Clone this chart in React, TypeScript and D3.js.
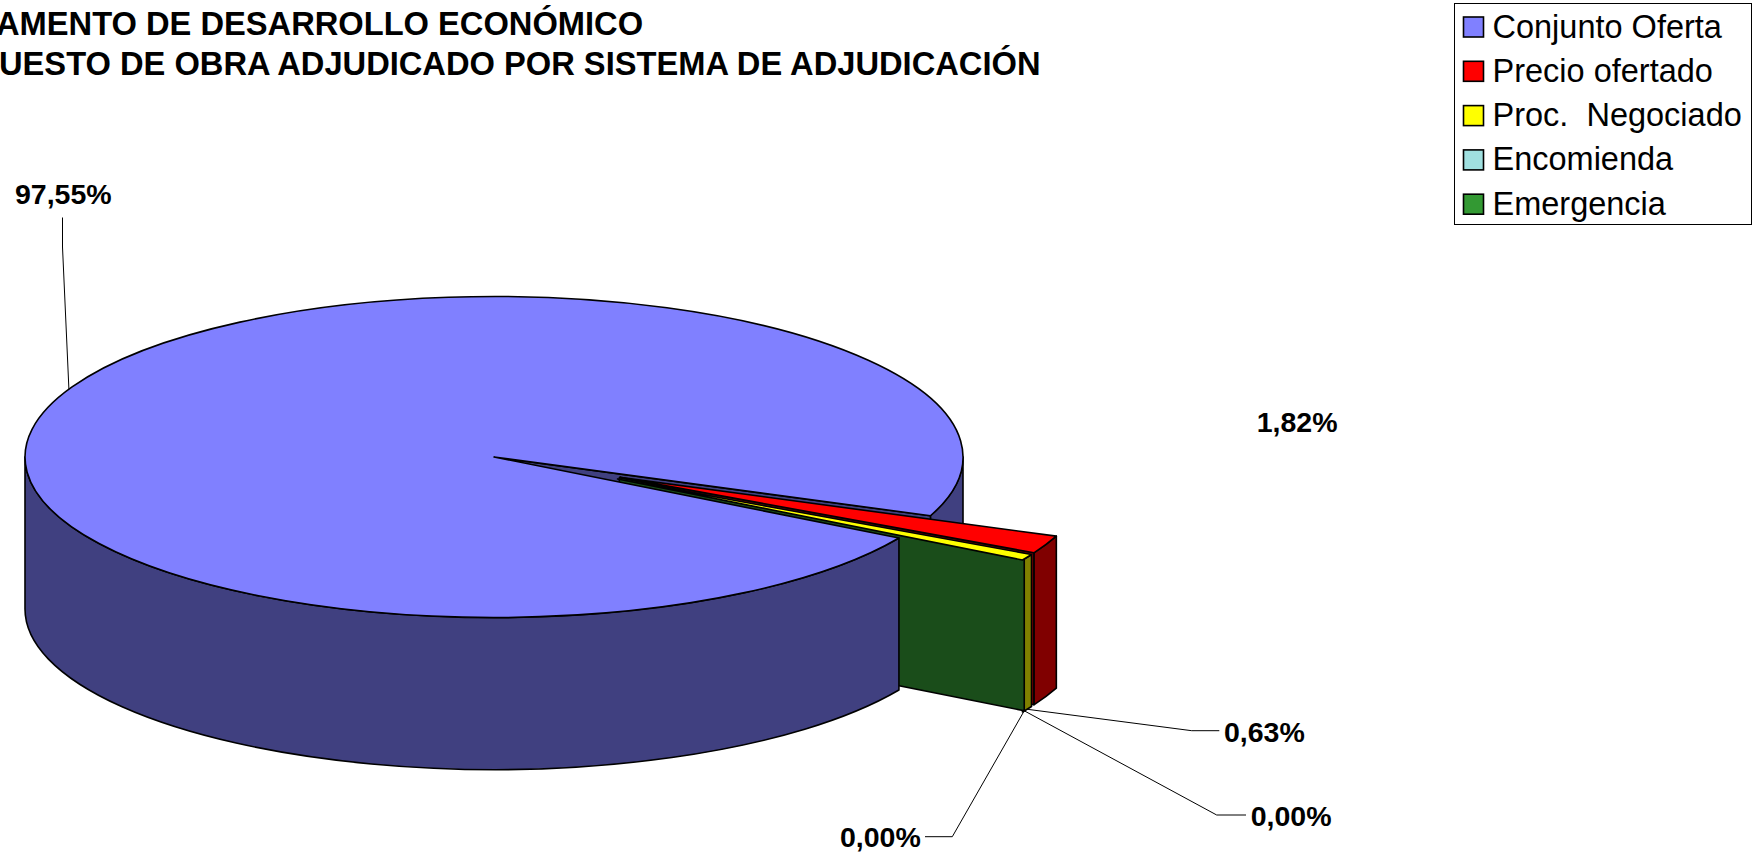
import React from "react";
import * as d3 from "d3";

// values
const categories = ["Conjunto Oferta", "Precio ofertado", "Proc.  Negociado", "Encomienda", "Emergencia"];
const shares = [97.55, 1.82, 0.63, 0, 0];
const shareLabels = ["97,55%", "1,82%", "0,63%", "0,00%", "0,00%"];
const topColors = ["#8080ff", "#ff0000", "#ffff00", "#a0e0e0", "#339933"];
const sideColors = ["#404080", "#800000", "#808000", "#507070", "#1a4d1a"];
const titleLines = ["AMENTO DE DESARROLLO ECONÓMICO", "UESTO DE OBRA ADJUDICADO POR SISTEMA DE ADJUDICACIÓN"];
const titleX = [-4, -1];

const width = 1755;
const height = 853;
const font = "'Liberation Sans', Arial, sans-serif";

// the pie, flattened to an ellipse
const cx = 494;
const cy = 457;
const rx = 469;
const ry = 160.5;
const depth = 152;
const explode = 0.297;
const firstAngle = (120.3 * Math.PI) / 180;

// label placement: [text x, baseline, elbow x, elbow y, end x, end y]
const labelPos: number[][] = [
  [15, 204, 62.5, 247, 62.5, 217.5],
  [1256.7, 432.3],
  [1224, 741.7, 1191.7, 730.7, 1219.3, 730.7],
  [1250.7, 825.7, 1216.7, 815, 1246, 815],
  [840, 846.7, 952.3, 836.7, 925, 836.7],
];

const pie = d3
  .pie<number>()
  .sort(null)
  .startAngle(firstAngle)
  .endAngle(firstAngle + 2 * Math.PI);
const arcs = pie(shares);

// d3 angles start at 12 o'clock, the ellipse maths at 3 o'clock
const theta = (a: number) => a - Math.PI / 2;
const px = (a: number) => rx * Math.cos(theta(a));
const py = (a: number) => ry * Math.sin(theta(a));
const midOf = (i: number) => (arcs[i].startAngle + arcs[i].endAngle) / 2;

// the small slices are pulled out, roughly together
const groupMid = (arcs[1].startAngle + arcs[4].endAngle) / 2;
const origin = (i: number) => {
  if (i === 0) return { x: cx, y: cy };
  const pull = i >= 3 ? groupMid : (midOf(i) + groupMid) / 2;
  return { x: cx + px(pull) * explode, y: cy + py(pull) * explode };
};
const rim = (i: number, a: number, dy = 0) => ({ x: origin(i).x + px(a), y: origin(i).y + py(a) + dy });

const topPath = (i: number) => {
  const o = origin(i);
  const s = rim(i, arcs[i].startAngle);
  const e = rim(i, arcs[i].endAngle);
  const large = arcs[i].endAngle - arcs[i].startAngle > Math.PI ? 1 : 0;
  return `M${o.x},${o.y}L${s.x},${s.y}A${rx},${ry} 0 ${large} 1 ${e.x},${e.y}Z`;
};

const wallPath = (i: number, a0: number, a1: number) => {
  const s = rim(i, a0);
  const e = rim(i, a1);
  const large = a1 - a0 > Math.PI ? 1 : 0;
  return `M${s.x},${s.y}A${rx},${ry} 0 ${large} 1 ${e.x},${e.y}L${e.x},${e.y + depth}A${rx},${ry} 0 ${large} 0 ${s.x},${s.y + depth}Z`;
};

// cut face at the clockwise end of a slice
const cutPath = (i: number) => {
  const o = origin(i);
  const e = rim(i, arcs[i].endAngle);
  return `M${o.x},${o.y}L${e.x},${e.y}L${e.x},${e.y + depth}L${o.x},${o.y + depth}Z`;
};

// the big slice's leader sits a little before its mid angle
const bigLeaderShift = (-0.9 * Math.PI) / 180;

const leader = (i: number) => {
  const p = labelPos[i];
  if (p.length < 6) return null;
  const a = i === 0 ? rim(0, midOf(0) + bigLeaderShift) : rim(i, midOf(i), depth);
  return d3.line()([
    [a.x, a.y],
    [p[2], p[3]],
    [p[4], p[5]],
  ]) as string;
};

// blue wall runs round the front, from the wedge to the left edge
const frontEnd = (3 * Math.PI) / 2;
const rightStart = 2 * Math.PI + Math.PI / 2;

export default function App() {
  const stroke = { stroke: "#000", strokeWidth: 1.6, strokeLinejoin: "round" as const };
  // slices with a real width get a wall and a top; the last zero slice shows only its cut face
  const wide = [1, 2].filter((i) => arcs[i].endAngle > arcs[i].startAngle);
  return (
    <svg width={width} height={height} style={{ position: "fixed", left: 0, top: 0, background: "#fff" }} fontFamily={font}>
      {titleLines.map((t, i) => (
        <text key={t} x={titleX[i]} y={35 + i * 40} fontSize={32.66} fontWeight="bold">
          {t}
        </text>
      ))}

      {/* back of the wedge */}
      <path d={wallPath(0, rightStart, arcs[0].endAngle)} fill={sideColors[0]} {...stroke} />
      <path d={cutPath(0)} fill={sideColors[0]} {...stroke} />

      {/* pulled out slices, back to front: sides first, tops over them */}
      <path d={wallPath(1, arcs[1].startAngle, arcs[1].endAngle)} fill={sideColors[1]} {...stroke} />
      <path d={cutPath(1)} fill={sideColors[1]} {...stroke} />
      <path d={wallPath(2, arcs[2].startAngle, arcs[2].endAngle)} fill={sideColors[2]} {...stroke} />
      <path d={cutPath(4)} fill={sideColors[4]} {...stroke} />
      {wide.map((i) => (
        <path key={i} d={topPath(i)} fill={topColors[i]} {...stroke} />
      ))}

      {/* main slice in front */}
      <path d={wallPath(0, arcs[0].startAngle, frontEnd)} fill={sideColors[0]} {...stroke} />
      <path d={topPath(0)} fill={topColors[0]} {...stroke} />

      {/* leaders and labels */}
      {arcs.map((_, i) => {
        const d = leader(i);
        return d ? <path key={i} d={d} fill="none" stroke="#000" strokeWidth={1} /> : null;
      })}
      {shareLabels.map((t, i) => (
        <text key={i} x={labelPos[i][0]} y={labelPos[i][1]} fontSize={28.5} fontWeight="bold">
          {t}
        </text>
      ))}

      {/* legend */}
      <rect x={1454.5} y={3.5} width={297} height={221} fill="#fff" stroke="#000" strokeWidth={1} />
      {categories.map((c, i) => (
        <g key={c}>
          <rect x={1463.5} y={17 + i * 44.3} width={20} height={20} fill={topColors[i]} stroke="#000" strokeWidth={1.6} />
          <text x={1492.5} y={37.5 + i * 44.3} fontSize={32.5} style={{ whiteSpace: "pre" }}>
            {c}
          </text>
        </g>
      ))}
    </svg>
  );
}
